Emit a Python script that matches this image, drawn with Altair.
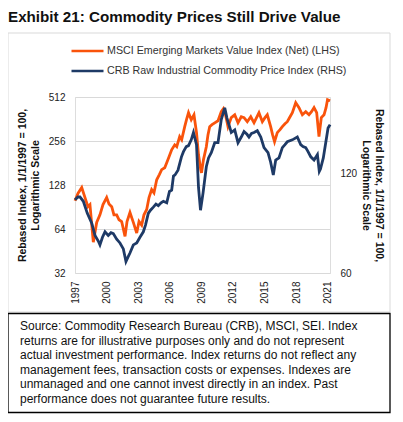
import altair as alt
import pandas as pd

# ---- data (decimal year, index level) ----
msci_years = [1997.00, 1997.28, 1997.64, 1997.95, 1998.23, 1998.42, 1998.74, 1999.06, 1999.37, 1999.66,
              2000.01, 2000.23, 2000.49, 2000.70, 2000.96, 2001.18, 2001.43, 2001.75, 2001.94, 2002.22,
              2002.54, 2002.86, 2003.08, 2003.33, 2003.55, 2003.81, 2004.03, 2004.28, 2004.50, 2004.76,
              2005.01, 2005.23, 2005.52, 2005.71, 2005.93, 2006.18, 2006.47, 2006.66, 2006.94, 2007.13,
              2007.42, 2007.59, 2007.78, 2008.04, 2008.30, 2008.54, 2008.73, 2008.94, 2009.01, 2009.20,
              2009.47, 2009.63, 2009.79, 2010.01, 2010.27, 2010.58, 2010.89, 2011.10, 2011.25, 2011.53,
              2011.84, 2012.17, 2012.48, 2012.79, 2013.05, 2013.36, 2013.69, 2014.00, 2014.24, 2014.47,
              2014.79, 2015.04, 2015.26, 2015.58, 2015.76, 2015.95, 2016.21, 2016.47, 2016.69, 2016.94,
              2017.16, 2017.42, 2017.64, 2017.96, 2018.27, 2018.59, 2018.91, 2019.22, 2019.46, 2019.70,
              2019.95, 2020.17, 2020.39, 2020.65, 2020.84, 2020.98, 2021.22]
msci_values = [100, 112, 123, 105, 91, 94, 52, 71, 80, 94,
               105, 95, 91, 80, 80, 74, 72, 57, 72, 83,
               71, 60, 72, 68, 80, 87, 105, 119, 113, 139,
               151, 163, 168, 182, 200, 223, 241, 234, 274, 261,
               321, 358, 400, 358, 387, 292, 206, 163, 155, 191,
               234, 283, 321, 331, 341, 352, 406, 426, 400, 321,
               370, 387, 341, 375, 370, 347, 375, 341, 370, 400,
               347, 370, 387, 321, 283, 253, 292, 306, 321, 336,
               347, 375, 400, 468, 433, 387, 406, 387, 406, 433,
               400, 274, 370, 387, 433, 491, 483]

crb_years = [1997.00, 1997.28, 1997.47, 1997.79, 1998.17, 1998.38, 1998.59, 1998.90, 1999.21, 1999.37,
             1999.61, 1999.85, 2000.16, 2000.42, 2000.64, 2000.96, 2001.27, 2001.59, 2001.84, 2002.03,
             2002.22, 2002.54, 2002.86, 2003.17, 2003.49, 2003.70, 2003.96, 2004.17, 2004.44, 2004.69,
             2004.91, 2005.17, 2005.39, 2005.71, 2005.97, 2006.18, 2006.35, 2006.50, 2006.78, 2007.11,
             2007.30, 2007.57, 2007.78, 2008.04, 2008.25, 2008.54, 2008.73, 2008.92, 2009.16, 2009.47,
             2009.68, 2009.94, 2010.27, 2010.58, 2010.89, 2011.22, 2011.43, 2011.62, 2011.84, 2012.17,
             2012.48, 2012.79, 2013.05, 2013.33, 2013.52, 2013.76, 2014.00, 2014.31, 2014.64, 2014.95,
             2015.33, 2015.58, 2015.83, 2016.06, 2016.37, 2016.69, 2016.94, 2017.16, 2017.64, 2018.11,
             2018.43, 2018.65, 2018.91, 2019.13, 2019.39, 2019.70, 2020.02, 2020.20, 2020.31, 2020.58,
             2020.81, 2021.03, 2021.22]
crb_values = [100, 102, 102, 99, 91, 88, 85, 78, 75, 73,
              77, 80, 78, 79.5, 79, 76, 74, 71, 65, 67,
              69, 73, 74, 77, 80, 84, 91, 93, 95, 97,
              96, 98, 99, 98, 106, 107, 118, 119, 123, 135,
              140, 145, 146, 152, 160, 147, 109, 93, 105, 126,
              134, 139, 149, 149, 175, 190, 177, 169, 160, 163,
              149, 155, 161, 158, 155, 159, 160, 162, 155, 144,
              139, 130, 119, 132, 134, 144, 147, 150, 152, 155,
              147, 145, 144, 140, 135, 132, 137, 122, 124, 134,
              149, 165, 169]

left_ticks = [32, 64, 128, 256, 512]
right_ticks = [60, 120]
tick_years = [1997, 2000, 2003, 2006, 2009, 2012, 2015, 2018, 2021]

MSCI = "MSCI Emerging Markets Value Index (Net) (LHS)"
CRB = "CRB Raw Industrial Commodity Price Index (RHS)"
ORANGE = "#F9530B"
NAVY = "#1E3A66"
FONT = "Liberation Sans"

title_text = "Exhibit 21: Commodity Prices Still Drive Value"
axis_title = ["Rebased Index, 1/1/1997 = 100,", "Logarithmic Scale"]
footnote = ("Source: Commodity Research Bureau (CRB), MSCI, SEI. Index\n"
            "returns are for illustrative purposes only and do not represent\n"
            "actual investment performance. Index returns do not reflect any\n"
            "management fees, transaction costs or expenses. Indexes are\n"
            "unmanaged and one cannot invest directly in an index. Past\n"
            "performance does not guarantee future results.")


def to_dates(years):
    out = []
    for y in years:
        base = pd.Timestamp(int(y), 1, 1)
        out.append(base + pd.to_timedelta((y - int(y)) * 365.25, unit="D"))
    return out


msci_df = pd.DataFrame({"date": to_dates(msci_years), "value": msci_values, "series": MSCI})
crb_df = pd.DataFrame({"date": to_dates(crb_years), "value": crb_values, "series": CRB})

x_enc = alt.X(
    "date:T",
    scale=alt.Scale(domain=[alt.DateTime(year=1997, month=1, date=1),
                            alt.DateTime(year=2021, month=3, date=20)]),
    axis=alt.Axis(values=[alt.DateTime(year=y, month=1, date=1) for y in tick_years],
                  format="%Y", labelAngle=270, labelPadding=8, ticks=False, domain=False,
                  grid=False, title=None, labelFontSize=10, labelColor="#222222",
                  labelFont=FONT),
)

color_enc = alt.Color(
    "series:N",
    scale=alt.Scale(domain=[MSCI, CRB], range=[ORANGE, NAVY]),
    legend=alt.Legend(title=None, orient="none", legendX=-5, legendY=-56,
                      direction="vertical", symbolType="stroke", symbolSize=1024,
                      symbolStrokeWidth=2.5, clipHeight=20, rowPadding=0,
                      labelFontSize=10.7, labelFont=FONT, labelColor="#333333",
                      labelOffset=2, padding=0, labelLimit=400),
)

msci_line = alt.Chart(msci_df).mark_line(strokeWidth=2.8, interpolate="linear").encode(
    x=x_enc,
    y=alt.Y("value:Q",
            scale=alt.Scale(type="log", base=2, domain=[32, 512], nice=False),
            axis=alt.Axis(values=left_ticks, orient="left", grid=True, gridColor="#d9d9d9",
                          domain=False, ticks=False, labelPadding=10, labelFontSize=10,
                          labelColor="#222222", labelFont=FONT,
                          title=axis_title, titleFont=FONT, titleFontSize=10.5,
                          titleFontWeight="bold", titleColor="#111111", titlePadding=8,
                          titleLineHeight=13)),
    color=color_enc,
)

crb_line = alt.Chart(crb_df).mark_line(strokeWidth=2.8, interpolate="linear").encode(
    x=x_enc,
    y=alt.Y("value:Q",
            scale=alt.Scale(type="log", base=2, domain=[60, 205], nice=False),
            axis=alt.Axis(values=right_ticks, orient="right", grid=False,
                          domain=False, ticks=False, labelPadding=10, labelFontSize=10,
                          labelColor="#222222", labelFont=FONT,
                          title=axis_title, titleFont=FONT, titleFontSize=10.5,
                          titleFontWeight="bold", titleColor="#111111", titlePadding=4,
                          titleAngle=90, titleLineHeight=13)),
    color=color_enc,
)

lines = alt.layer(msci_line, crb_line).resolve_scale(y="independent")

dummy = alt.Data(values=[{"k": 0}])

frame = alt.Chart(dummy).mark_rect(fill=None, stroke="#d9d9d9", strokeWidth=1).encode(
    x=alt.value(-67), x2=alt.value(315), y=alt.value(-64), y2=alt.value(215))

note_box = alt.Chart(dummy).mark_rect(fill=None, stroke="black", strokeWidth=1.3).encode(
    x=alt.value(-67), x2=alt.value(315), y=alt.value(216.5), y2=alt.value(315.5))

title_mark = alt.Chart(dummy).mark_text(
    align="left", baseline="alphabetic", font=FONT, fontSize=15.2, fontWeight="bold",
    color="#111111").encode(x=alt.value(-67), y=alt.value(-75), text=alt.value(title_text))

note_text = alt.Chart(dummy).mark_text(
    align="left", baseline="alphabetic", font=FONT, fontSize=12, lineBreak="\n",
    lineHeight=14.5, color="#111111").encode(
    x=alt.value(-55), y=alt.value(233), text=alt.value(footnote))

chart = alt.layer(frame, note_box, title_mark, note_text, lines).properties(
    width=255, height=176,
    autosize=alt.AutoSizeParams(type="none"),
    padding={"left": 67, "top": 89, "right": 65, "bottom": 143},
).configure_view(stroke=None).configure(background="white")

chart.save("out.html", embed_options={"renderer": "svg", "actions": False})
